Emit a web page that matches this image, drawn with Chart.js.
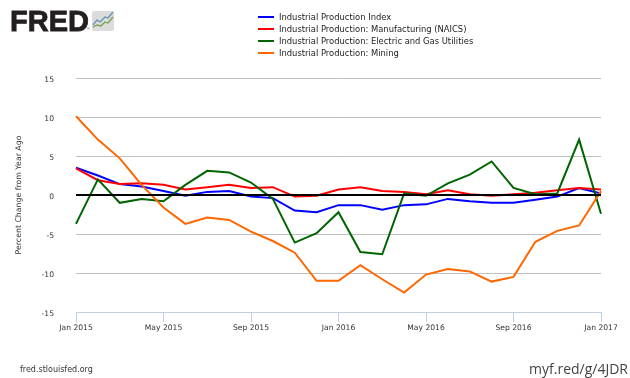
<!DOCTYPE html>
<html>
<head>
<meta charset="utf-8">
<title>Industrial Production</title>
<script src="https://cdn.jsdelivr.net/npm/chart.js@4"></script>
<style>
html,body{margin:0;padding:0;background:#fff;}
#wrap{position:relative;width:630px;height:378px;overflow:hidden;font-family:"DejaVu Sans",sans-serif;}
#chart{position:absolute;left:0;top:0;}
#logo{position:absolute;left:10px;top:3px;font:bold 29px/36px "Liberation Sans",sans-serif;color:#231f20;-webkit-text-stroke:.8px #231f20;}
#logo sup{position:absolute;left:77px;top:23px;font:normal 4px/5px "Liberation Sans",sans-serif;-webkit-text-stroke:0;color:#555;}
#icon{position:absolute;left:92px;top:11px;}
#legend{position:absolute;left:258px;top:11px;font-size:8.4px;line-height:12px;color:#222;}
#legend div{height:12px;white-space:nowrap;position:relative;padding-left:21px;}
#legend i{position:absolute;left:0;top:5px;width:16px;height:2px;}
#src{position:absolute;left:20px;top:365px;font-size:8px;line-height:10px;color:#333;}
#short{position:absolute;right:2px;top:360px;font:14px/18px "Open Sans",sans-serif;color:#444;}
</style>
</head>
<body>
<div id="wrap">
<canvas id="chart" width="630" height="378"></canvas>
<div id="logo">FRED<sup>&reg;</sup></div>
<svg id="icon" width="22" height="20" viewBox="0 0 22 20">
<rect width="22" height="20" rx="2" fill="#dcdcdc"/>
<path d="M1 14 L5 9 L8 11 L13 6 L16 7 L21 1" fill="none" stroke="#5f93b5" stroke-width="1.3"/>
<path d="M1 16 L5 14 L9 15 L13 11 L16 12 L21 6" fill="none" stroke="#76a04f" stroke-width="1.3"/>
</svg>
<div id="legend"></div>
<div id="src">fred.stlouisfed.org</div>
<div id="short">myf.red/g/4JDR</div>
</div>
<script>
var months=['Jan 2015','Feb 2015','Mar 2015','Apr 2015','May 2015','Jun 2015','Jul 2015','Aug 2015','Sep 2015','Oct 2015','Nov 2015','Dec 2015',
	'Jan 2016','Feb 2016','Mar 2016','Apr 2016','May 2016','Jun 2016','Jul 2016','Aug 2016','Sep 2016','Oct 2016','Nov 2016','Dec 2016','Jan 2017'];
var yTicks=[-15,-10,-5,0,5,10,15];
var indexValues=[3.5,2.5,1.4,1.1,0.5,-0.1,0.4,0.5,-0.2,-0.4,-2.0,-2.2,-1.3,-1.3,-1.9,-1.3,-1.2,-0.5,-0.8,-1.0,-1.0,-0.6,-0.2,0.9,0.2];
var manufacturing=[3.4,1.9,1.4,1.5,1.3,0.7,1.0,1.3,0.9,1.0,-0.2,-0.1,0.7,1.0,0.5,0.4,0.1,0.6,0.1,-0.1,0.1,0.3,0.6,0.9,0.7];
var utilities=[-3.7,2.0,-1.0,-0.5,-0.8,1.3,3.1,2.9,1.6,-0.5,-6.1,-4.9,-2.2,-7.3,-7.6,0.2,-0.1,1.5,2.6,4.3,0.9,0.1,0.2,7.1,-2.4];
var mining=[10.1,7.1,4.7,1.3,-1.6,-3.7,-2.9,-3.2,-4.7,-5.9,-7.4,-11.0,-11.0,-9.0,-10.8,-12.5,-10.2,-9.5,-9.8,-11.1,-10.5,-6.0,-4.6,-3.9,0.5];
var zeroLine=[0,0,0,0,0,0,0,0,0,0,0,0,0,0,0,0,0,0,0,0,0,0,0,0,0];
var seriesNames=['Industrial Production Index','Industrial Production: Manufacturing (NAICS)','Industrial Production: Electric and Gas Utilities','Industrial Production: Mining'];
var seriesColors=['#0000ff','#ff0000','#006400','#ff6600'];

// legend
var legendBox=document.getElementById('legend');
for(var i=0;i<seriesNames.length;i++){
	var row=document.createElement('div');
	row.textContent=seriesNames[i];
	var swatch=document.createElement('i');
	swatch.style.background=seriesColors[i];
	row.appendChild(swatch);
	legendBox.appendChild(row);
}

function lineSet(label,data,color,order,width){
	return {label:label,data:data,borderColor:color,borderWidth:width,pointRadius:0,tension:0,fill:false,order:order,borderJoinStyle:'miter'};
}

new Chart(document.getElementById('chart').getContext('2d'),{
	type:'line',
	data:{
		labels:months,
		datasets:[
			lineSet(seriesNames[0],indexValues,seriesColors[0],5,2),
			lineSet(seriesNames[1],manufacturing,seriesColors[1],4,2),
			lineSet(seriesNames[2],utilities,seriesColors[2],3,2),
			lineSet(seriesNames[3],mining,seriesColors[3],2,2),
			lineSet('zero',zeroLine,'#000000',1,2)
		]
	},
	options:{
		responsive:false,
		animation:false,
		layout:{padding:{top:78,right:29,left:0,bottom:0}},
		plugins:{legend:{display:false},title:{display:false},tooltip:{enabled:false}},
		scales:{
			x:{
				offset:false,
				afterBuildTicks:function(scale){
					scale.ticks=scale.ticks.filter(function(t,i){return i%4==0;});
				},
				afterFit:function(scale){scale.height=66;},
				grid:{drawOnChartArea:false,drawTicks:true,tickLength:10,color:'#c0d0e0'},
				border:{color:'#c0d0e0'},
				ticks:{autoSkip:false,maxRotation:0,padding:1,color:'#333',font:{family:'DejaVu Sans',size:7.6},
					callback:function(v){return this.getLabelForValue(v);}}
			},
			y:{
				min:-15,max:15,
				afterBuildTicks:function(scale){
					scale.ticks=yTicks.map(function(v){return {value:v};});
				},
				afterFit:function(scale){scale.width=76;},
				grid:{drawTicks:false,color:'#c0c0c0'},
				border:{display:false},
				ticks:{padding:22,labelOffset:2,color:'#333',font:{family:'DejaVu Sans',size:7.6}},
				title:{display:true,text:'Percent Change from Year Ago',color:'#333',font:{family:'DejaVu Sans',size:7.8},padding:{top:14,bottom:0}}
			}
		}
	}
});
</script>
</body>
</html>
